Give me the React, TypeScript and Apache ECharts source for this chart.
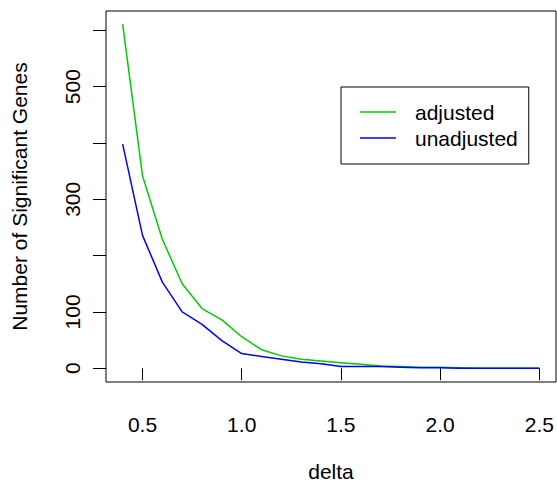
import React, { useEffect, useRef } from "react";
import * as echarts from "echarts";

const deltas = [0.4, 0.5, 0.6, 0.7, 0.8, 0.9, 1.0, 1.1, 1.2, 1.3, 1.4, 1.5, 1.6, 1.7, 1.8, 1.9, 2.0, 2.1, 2.2, 2.3, 2.4, 2.5];
const adjusted = [611, 342, 229, 150, 106, 86, 56, 33, 22, 16, 13, 10, 7, 4, 3, 2, 2, 1, 0, 0, 0, 0];
const unadjusted = [398, 236, 153, 100, 78, 49, 26, 21, 16, 11, 8, 3, 3, 3, 2, 1, 1, 0, 0, 0, 0, 0];
const xTicks = [0.5, 1.0, 1.5, 2.0, 2.5];
const yTicks = [0, 100, 200, 300, 400, 500, 600];
const yLabels = [0, 100, 300, 500];

const FONT = "'Liberation Sans', Arial, Helvetica, sans-serif";

export default function App() {
  const ref = useRef<HTMLDivElement>(null);
  useEffect(() => {
    if (!ref.current) return;
    const chart = echarts.init(ref.current, null, { renderer: "svg" });
    chart.setOption({
      animation: false,
      backgroundColor: "#ffffff",
      textStyle: { fontFamily: FONT },
      grid: {
        left: 106,
        right: 1,
        top: 11,
        bottom: 101,
        containLabel: false,
        outerBoundsMode: "none",
        show: true,
        borderColor: "#000000",
        borderWidth: 1,
        backgroundColor: "transparent",
      },
      legend: {
        orient: "vertical",
        left: 341,
        top: 87,
        padding: [12, 11, 13, 19],
        borderColor: "#000000",
        borderWidth: 1,
        icon: "rect",
        itemWidth: 36,
        itemHeight: 1.5,
        itemGap: 0,
        textStyle: {
          fontFamily: FONT,
          fontSize: 21,
          color: "#000000",
          lineHeight: 26,
          padding: [0, 0, 0, 14],
        },
        data: ["adjusted", "unadjusted"],
      },
      xAxis: {
        type: "value",
        min: 0.316,
        max: 2.584,
        name: "delta",
        nameLocation: "middle",
        nameGap: 82,
        nameTextStyle: { fontFamily: FONT, fontSize: 21, color: "#000000", lineHeight: 14 },
        axisLine: { show: false },
        splitLine: { show: false },
        axisTick: {
          show: true,
          length: 12,
          lineStyle: { color: "#000000", width: 1 },
          customValues: xTicks,
        },
        axisLabel: {
          fontFamily: FONT,
          fontSize: 21,
          color: "#000000",
          margin: 32,
          customValues: xTicks,
          formatter: (v: number) => v.toFixed(1),
        },
      },
      yAxis: {
        type: "value",
        min: -24.4,
        max: 634.4,
        name: "Number of Significant Genes",
        nameLocation: "middle",
        nameGap: 76,
        nameRotate: 90,
        nameTextStyle: { fontFamily: FONT, fontSize: 21, color: "#000000" },
        axisLine: { show: false },
        splitLine: { show: false },
        axisTick: {
          show: true,
          length: 13,
          lineStyle: { color: "#000000", width: 1 },
          customValues: yTicks,
        },
        axisLabel: {
          fontFamily: FONT,
          fontSize: 21,
          color: "#000000",
          rotate: 90,
          margin: 23,
          customValues: yLabels,
        },
      },
      series: [
        {
          name: "adjusted",
          type: "line",
          symbol: "none",
          data: deltas.map((d, i) => [d, adjusted[i]]),
          lineStyle: { color: "#00CD00", width: 1.5 },
          itemStyle: { color: "#00CD00" },
        },
        {
          name: "unadjusted",
          type: "line",
          symbol: "none",
          data: deltas.map((d, i) => [d, unadjusted[i]]),
          lineStyle: { color: "#0000FF", width: 1.5 },
          itemStyle: { color: "#0000FF" },
        },
      ],
    });
    return () => chart.dispose();
  }, []);
  return (
    <div
      ref={ref}
      style={{ position: "fixed", left: 0, top: 0, width: 557, height: 483 }}
    />
  );
}
